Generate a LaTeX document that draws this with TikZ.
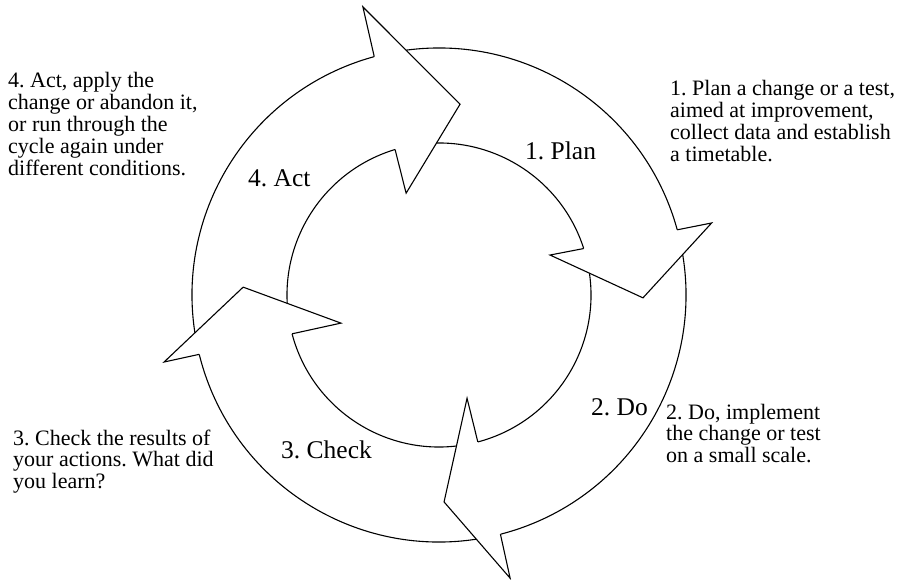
\documentclass[tikz,border=0pt]{standalone}
\usepackage{fontspec}
\setmainfont{Liberation Serif}
\frenchspacing
\newcommand\txtblock[1]{\begin{tabular}[t]{@{}l@{}}#1\end{tabular}}
\newcommand\Ro{247}
\newcommand\Ri{152}
% ring segment: #1/#2 outer start/end angle, #3/#4 inner start/end angle
\newcommand\ringbody[4]{%
  \fill[white] (#1:\Ro) arc[start angle=#1,end angle=#2,radius=\Ro]
    -- (#4:\Ri) arc[start angle=#4,end angle=#3,radius=\Ri] -- cycle;
  \draw[ring] (#1:\Ro) arc[start angle=#1,end angle=#2,radius=\Ro];
  \draw[ring] (#3:\Ri) arc[start angle=#3,end angle=#4,radius=\Ri];}
% arrow head: outer notch, outer barb, tip, inner barb, inner notch
\newcommand\ringhead[5]{%
  \fill[white] (#1) -- (#2) -- (#3) -- (#4) -- (#5) -- cycle;
  \draw[ring] (#1) -- (#2) -- (#3) -- (#4) -- (#5);}
\begin{document}
\begin{tikzpicture}[x=1pt,y=1pt,
  ring/.style={line width=1.1pt,line join=miter},
  note/.style={anchor=base west,inner sep=0pt,font=\fontsize{22}{21.7}\selectfont},
  steplabel/.style={anchor=base west,inner sep=0pt,font=\fontsize{25.5}{28}\selectfont}]
\useasboundingbox (0,0) rectangle (901,579);
\begin{scope}[shift={(439,284)}]
  % bodies of the four curved arrows
  \ringbody{191}{105.2}{191}{106.8}
  \ringbody{102}{15.3}{102}{17.8}
  \ringbody{12}{-75.6}{12}{-75.2}
  \ringbody{-79}{-166.1}{-79}{-165.2}
  % heads, drawn over the tail of the following arrow
  \ringhead{105.2:\Ro}{104.8:298}{83.7:192}{107.9:107}{106.8:\Ri}
  \ringhead{15.3:\Ro}{14.8:282}{-0.8:204}{19.8:118}{17.8:\Ri}
  \ringhead{-75.6:\Ro}{-75.9:292}{-88.6:207}{-74.8:107}{-75.2:\Ri}
  \ringhead{193.9:\Ro}{193.7:283}{177.7:196}{196:102}{194.8:\Ri}
\end{scope}
% step labels inside the ring
\node[steplabel] (lplan) at (525,419) {1. Plan};
\node[steplabel] (ldo) at (591,164) {2. Do};
\node[steplabel] (lcheck) at (281,121) {3. Check};
\node[steplabel] (lact) at (248,392) {4. Act};
% explanations
\node[note] (nplan) at (670,483) {\txtblock{1. Plan a change or a test,\\aimed at improvement,\\collect data and establish\\a timetable.}};
\node[note] (ndo) at (666,160) {\txtblock{2. Do, implement\\the change or test\\on a small scale.}};
\node[note] (ncheck) at (13,134) {\txtblock{3. Check the results of\\your actions. What did\\you learn?}};
\node[note] (nact) at (8,491) {\txtblock{4. Act, apply the\\change or abandon it,\\or run through the\\cycle again under\\different conditions.}};
\end{tikzpicture}
\end{document}
